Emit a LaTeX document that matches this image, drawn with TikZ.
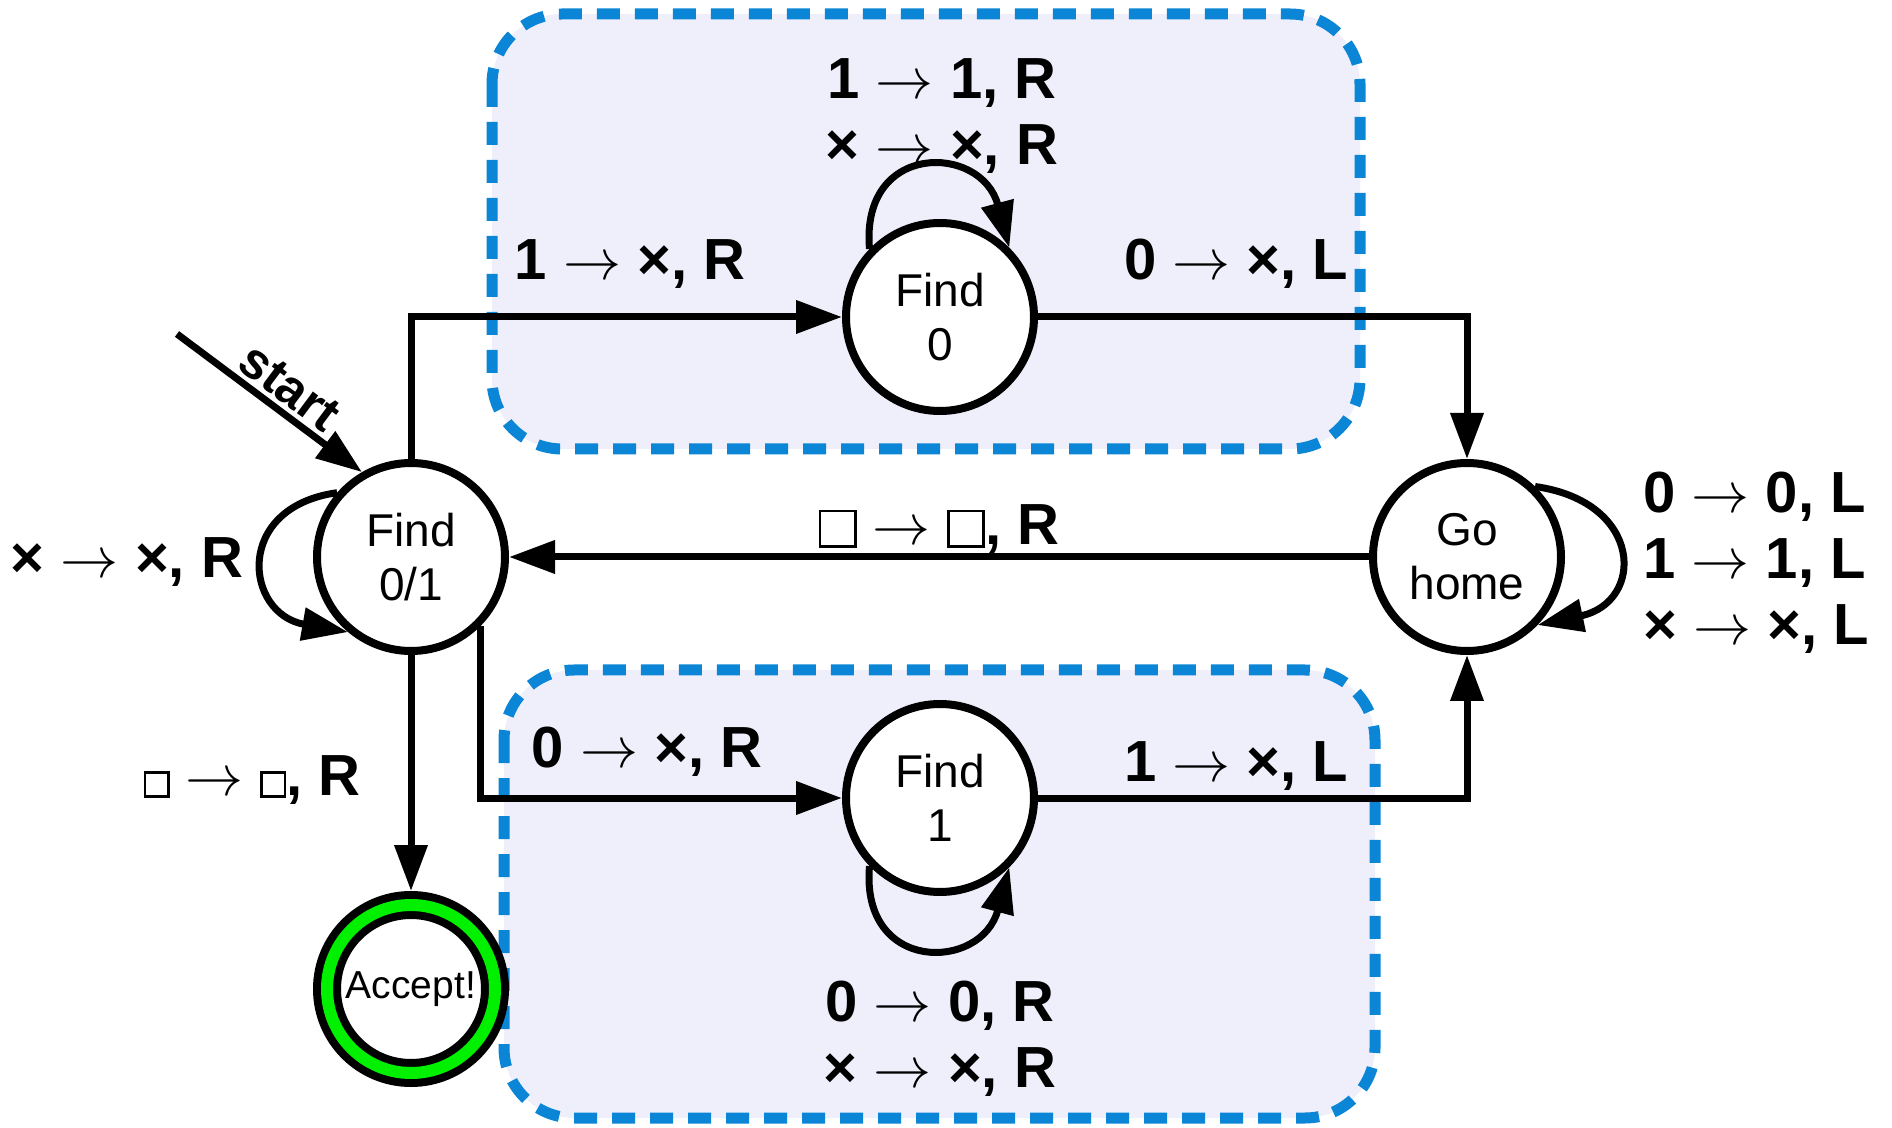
\RequirePackage{fix-cm}
\documentclass[tikz,border=0pt]{standalone}
\usepackage{fontspec}
\setmainfont{Liberation Sans}
\usepackage{tikz}
\usetikzlibrary{arrows.meta}
\definecolor{regionblue}{HTML}{0B85D5}
\definecolor{regionfill}{HTML}{EFEFFC}
\definecolor{acceptgreen}{HTML}{00F000}
% empty tape cell
\newcommand{\tapecell}[1]{{\setlength{\fboxsep}{0pt}\setlength{\fboxrule}{1.3pt}\fbox{\rule{0pt}{#1}\rule{#1}{0pt}}}}

\begin{document}
\begin{tikzpicture}[x=0.5pt, y=0.5pt,
  state/.style={circle, draw, line width=4pt, fill=white, minimum size=94pt, inner sep=0pt,
                align=center, font=\fontsize{23}{27}\selectfont},
  accept/.style={circle, draw, line width=4pt, double=acceptgreen, double distance=6pt, fill=white,
                 minimum size=84pt, inner sep=0pt, outer sep=7pt, font=\fontsize{19.5}{23}\selectfont},
  region/.style={draw=regionblue, fill=regionfill, line width=5.5pt, dash pattern=on 11.5pt off 7.5pt,
                 rounded corners=35pt},
  arr/.style={-{Triangle[length=23pt, width=16pt]}, line width=3.5pt},
  lbl/.style={font=\fontsize{29}{33}\selectfont\bfseries, inner sep=0pt, align=center},
  startlbl/.style={font=\fontsize{25.5}{30}\selectfont\bfseries, inner sep=2pt},
]
\useasboundingbox (0,0) rectangle (1892,-1128);

% shaded groups
\draw[region] (492,-14) rectangle (1360,-449);
\draw[region] (504,-670) rectangle (1375,-1118);

\node[state]  (f01) at (411,-557)  {Find\\0/1};
\node[state]  (f0)  at (940,-317)  {Find\\0};
\node[state]  (f1)  at (940,-798)  {Find\\1};
\node[state]  (gh)  at (1467,-557) {Go\\home};
\node[accept] (acc) at (411,-989)  {Accept!};
\coordinate (st) at (177,-334);

\draw[arr] (st) -- node[startlbl, sloped, above, pos=0.53] {start} (f01.120);
\draw[arr] (f01.north) |- (f0.west);
\draw[arr] (f0.east) -| (gh.north);
\draw[arr] (gh.west) -- (f01.east);
\draw[arr] (f01.-45) |- (f1.west);
\draw[arr] (f1.east) -| (gh.south);
\draw[arr] (f01.south) -- (acc.north);

% self loops
\draw[arr] (f0.136) .. controls +(95:108) and +(105:108) .. (f0.45);
\draw[arr] (f1.-136) .. controls +(-95:108) and +(-105:108) .. (f1.-45);
\draw[arr] (f01.139) .. controls +(188:105) and +(170:105) .. (f01.230);
\draw[arr] (gh.46) .. controls +(-8:110) and +(12:110) .. (gh.-44);

\node[lbl, anchor=base] (l-f01)  at (127,-578)  {× $\rightarrow$ ×, R};
\node[lbl, anchor=base] (l-to0)  at (630,-280)  {1 $\rightarrow$ ×, R};
\node[lbl, anchor=base] (l-back0) at (1236,-280) {0 $\rightarrow$ ×, L};
\node[lbl]              (l-f0)   at (942,-116)  {1 $\rightarrow$ 1, R\\× $\rightarrow$ ×, R};
\node[lbl, anchor=base] (l-home) at (939,-545)  {\tapecell{16.4pt} $\rightarrow$ \tapecell{16.4pt}, R};
\node[lbl, anchor=west, align=left] (l-gh) at (1643,-563) {0 $\rightarrow$ 0, L\\1 $\rightarrow$ 1, L\\× $\rightarrow$ ×, L};
\node[lbl, anchor=base] (l-to1)  at (647,-767)  {0 $\rightarrow$ ×, R};
\node[lbl, anchor=base] (l-back1) at (1236,-781) {1 $\rightarrow$ ×, L};
\node[lbl, anchor=base] (l-acc)  at (252,-795)  {\tapecell{10.5pt} $\rightarrow$ \tapecell{10.5pt}, R};
\node[lbl]              (l-f1)   at (940,-1039) {0 $\rightarrow$ 0, R\\× $\rightarrow$ ×, R};
\end{tikzpicture}
\end{document}
